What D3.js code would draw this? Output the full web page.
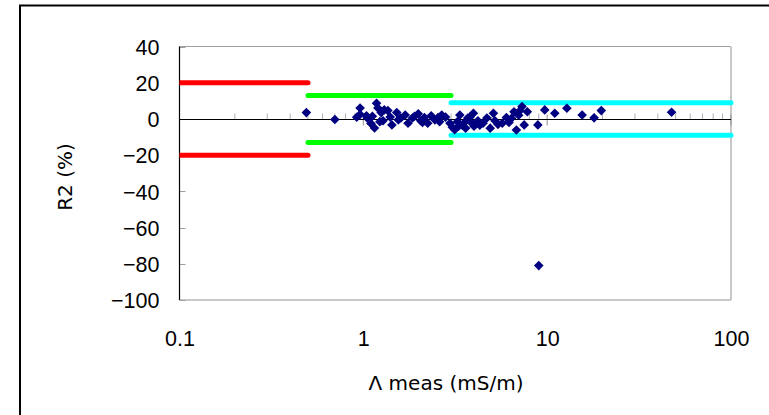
<!DOCTYPE html>
<html><head><meta charset="utf-8">
<script src="https://cdn.jsdelivr.net/npm/d3@7"></script>
<style>body{margin:0;background:#fff}svg{display:block}text{font-family:"Liberation Sans",Arial,sans-serif;fill:#000}</style>
</head><body>
<svg id="c" width="769" height="415"></svg>
<script>
const conductivity = [0.49,0.70,0.92,0.96,0.96,1.04,1.05,1.10,1.12,1.15,1.18,1.20,1.23,1.25,1.28,1.30,1.36,1.40,1.43,1.52,1.55,1.60,1.69,1.75,1.85,1.90,1.99,2.05,2.10,2.15,2.24,2.34,2.45,2.55,2.60,2.67,2.80,2.96,3.05,3.14,3.25,3.30,3.35,3.45,3.55,3.60,3.70,3.80,3.90,3.97,4.00,4.20,4.30,4.48,4.70,4.90,5.10,5.20,5.40,5.70,6.00,6.20,6.40,6.60,6.80,7.00,7.10,7.30,7.50,7.80,8.90,9.00,9.70,11.0,12.8,15.5,18.0,19.7,47.5];
const r2 = [3.5,-0.3,0.9,6.0,2.5,1.7,0.5,-2.5,1.5,-5.0,8.7,6.0,-1.5,3.5,-1.0,5.0,4.6,1.0,-3.3,3.5,-0.5,0.5,2.2,-2.4,0.5,1.5,2.8,-1.0,-2.0,0.8,-2.4,1.7,-0.5,0.8,-1.5,2.2,1.0,-2.4,-4.6,-6.0,-1.5,-4.0,2.2,-3.5,-2.0,-5.1,0.5,1.0,-2.4,3.1,-4.0,-1.0,-3.5,-2.4,0.5,-5.1,3.1,-1.0,-3.0,-2.4,0.8,-2.0,0.4,4.0,-6.1,2.0,4.5,6.8,-3.3,4.0,-3.3,-81,5.0,3.1,5.9,2.2,0.6,4.6,3.7];
const limitFrom = [0.1,0.5,3];
const limitTo = [0.5,3,100];
const limitValue = [20,13,9];
const limitColor = ["#ff0000","#00ff00","#00ffff"];
const xTickValues = [0.1,1,10,100];
const xTickLabels = ["0.1","1","10","100"];
const yTickValues = [40,20,0,-20,-40,-60,-80,-100];

const svg = d3.select("#c");
const L=179.5, R=731, T=46.5, B=300;
const x = d3.scaleLog().domain([0.1,100]).range([L,R]);
const y = d3.scaleLinear().domain([-100,40]).range([B,T]);

// outer frame
svg.append("rect").attr("x",20).attr("y",5.5).attr("width",780).attr("height",440)
  .attr("fill","none").attr("stroke","#000").attr("stroke-width",2);

// plot border
svg.append("line").attr("x1",L).attr("x2",R).attr("y1",T).attr("y2",T).attr("stroke","#a0a0a0").attr("stroke-width",1);
svg.append("line").attr("x1",R).attr("x2",R).attr("y1",T).attr("y2",B).attr("stroke","#c8c8c8").attr("stroke-width",2);
svg.append("line").attr("x1",L).attr("x2",R).attr("y1",B).attr("y2",B).attr("stroke","#c8c8c8").attr("stroke-width",2);

// y axis
const yAxis = d3.axisLeft(y).tickValues(yTickValues).tickSize(0).tickPadding(20);
const yg = svg.append("g").attr("transform",`translate(${L},0)`).call(yAxis);
yg.select(".domain").remove();
yg.selectAll("text").attr("font-size",21.5).attr("x",-20).attr("dy","0.36em")
  .style("font-family",'"Liberation Sans",Arial,sans-serif');
svg.append("g").selectAll("line").data(yTickValues).join("line")
  .attr("x1",L).attr("x2",L+6).attr("y1",d=>Math.round(y(d))+0.5).attr("y2",d=>Math.round(y(d))+0.5)
  .attr("stroke","#a0a0a0");
svg.append("line").attr("x1",L).attr("x2",L).attr("y1",T).attr("y2",B).attr("stroke","#000").attr("stroke-width",1.2);

// zero line with log ticks
const y0 = Math.round(y(0))+0.5;
const minor = [];
for (let e=-1;e<2;e++) for (let k=2;k<10;k++) minor.push(k*Math.pow(10,e));
svg.append("g").selectAll("line").data(minor).join("line")
  .attr("x1",d=>x(d)).attr("x2",d=>x(d)).attr("y1",y0-6).attr("y2",y0)
  .attr("stroke","#b0b0b0");
svg.append("g").selectAll("line").data(xTickValues.slice(1)).join("line")
  .attr("x1",d=>x(d)).attr("x2",d=>x(d)).attr("y1",y0-5).attr("y2",y0+6)
  .attr("stroke","#909090");
svg.append("line").attr("x1",L).attr("x2",R).attr("y1",y0).attr("y2",y0).attr("stroke","#000").attr("stroke-width",1.2);

// x tick labels
const xAxis = d3.axisBottom(x).tickValues(xTickValues).tickFormat((d,i)=>xTickLabels[i]).tickSize(0).tickPadding(0);
const xg = svg.append("g").attr("transform",`translate(0,${B})`).call(xAxis);
xg.select(".domain").remove();
xg.selectAll("text").attr("font-size",21.5).attr("y",46).attr("dy",0)
  .style("font-family",'"Liberation Sans",Arial,sans-serif');

// limit lines
svg.append("clipPath").attr("id","clip").append("rect").attr("x",L).attr("y",T).attr("width",R-L+8).attr("height",B-T);
const lim = svg.append("g").attr("clip-path","url(#clip)");
limitValue.forEach((v,i)=>{
  [v,-v].forEach(val=>{
    lim.append("line").attr("x1",x(limitFrom[i])).attr("x2",x(limitTo[i]))
      .attr("y1",y(val)).attr("y2",y(val))
      .attr("stroke",limitColor[i]).attr("stroke-width",5).attr("stroke-linecap","round");
  });
});

// points
const s=4.8;
svg.append("g").selectAll("path").data(conductivity.map((c,i)=>[c,r2[i]])).join("path")
  .attr("d",d=>{const cx=x(d[0]),cy=y(d[1]);return `M${cx},${cy-s}L${cx+s},${cy}L${cx},${cy+s}L${cx-s},${cy}Z`;})
  .attr("fill","#000080");

// titles
svg.append("text").attr("transform","translate(72,177) rotate(-90)").attr("text-anchor","middle")
  .style("font-family",'"DejaVu Sans",sans-serif').attr("font-size",20).text("R2 (%)");
const xt = svg.append("text").attr("x",446).attr("y",390).attr("text-anchor","middle")
  .style("font-family",'"DejaVu Sans",sans-serif').attr("font-size",20);
xt.append("tspan").text("Λ ");
xt.append("tspan").text("meas (mS/m)");
</script>
</body></html>
